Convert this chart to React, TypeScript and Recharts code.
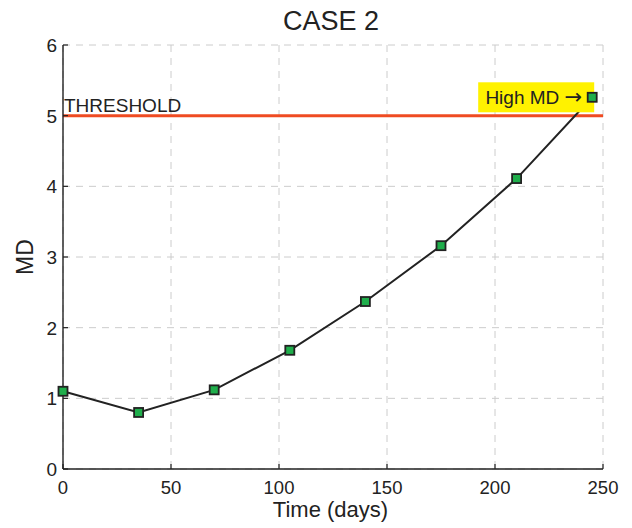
import { LineChart, Line, XAxis, YAxis, CartesianGrid, ReferenceLine, Customized } from 'recharts';

const days = [0, 35, 70, 105, 140, 175, 210, 245];
const md = [1.1, 0.8, 1.12, 1.68, 2.37, 3.16, 4.11, 5.26];
const xTicks = [0, 50, 100, 150, 200, 250];
const yTicks = [0, 1, 2, 3, 4, 5, 6];
const threshold = 5;
const title = 'CASE 2';
const xLabel = 'Time (days)';
const yLabel = 'MD';
const thresholdLabel = 'THRESHOLD';
const highLabel = 'High MD ';
const arrow = '\u2192';

const FONT = '"Liberation Sans", Arial, Helvetica, sans-serif';
const INK = '#222';

const data = days.map((d, i) => ({ day: d, md: md[i] }));

const XTick = ({ x, y, payload }: any) => (
    <g>
        <line x1={x} x2={x} y1={y} y2={y - 5} stroke={INK} strokeWidth={1.2} />
        <text x={x} y={y + 25} textAnchor="middle" fontSize={18.5} fill={INK} fontFamily={FONT}>
            {payload.value}
        </text>
    </g>
);

const YTick = ({ x, y, payload }: any) => (
    <g>
        <line x1={x} x2={x + 5} y1={y} y2={y} stroke={INK} strokeWidth={1.2} />
        <text x={x - 6} y={y + 7} textAnchor="end" fontSize={19} fill={INK} fontFamily={FONT}>
            {payload.value}
        </text>
    </g>
);

const SquareDot = ({ cx, cy, index }: any) => (
    <rect key={`dot-${index}`} x={cx - 4.5} y={cy - 4.5} width={9} height={9} fill="#1fae4b" stroke={INK} strokeWidth={1.8} />
);

// yellow note next to the last point, drawn under the data line
const HighNote = ({ cx, cy, index }: any) => {
    if (index !== days.length - 1) return <g key={`note-${index}`} />;
    return (
        <g key={`note-${index}`}>
            <rect x={cx - 114} y={cy - 15} width={116} height={30} fill="#fff200" />
            <text x={cx - 10} y={cy + 7} textAnchor="end" fontSize={19} fill={INK} fontFamily={FONT}>
                {highLabel}
                <tspan fontFamily='"DejaVu Sans", sans-serif' fontSize={21}>{arrow}</tspan>
            </text>
        </g>
    );
};

const Texts = () => (
    <g fontFamily={FONT} fill={INK}>
        <text x={331} y={30} textAnchor="middle" fontSize={27}>{title}</text>
        <text x={330.5} y={517} textAnchor="middle" fontSize={22}>{xLabel}</text>
        <text x={32.5} y={257} textAnchor="middle" fontSize={23} transform="rotate(-90 32.5 257)">{yLabel}</text>
    </g>
);

export default function App() {
    return (
        <div style={{ position: 'absolute', left: 0, top: 0, width: 632, height: 528 }}>
            <LineChart width={632} height={528} data={data} margin={{ top: 45, right: 29, left: 9, bottom: 8 }}>
                <CartesianGrid strokeDasharray="7 6" stroke="#cccccc" />
                <XAxis
                    dataKey="day"
                    type="number"
                    domain={[0, 250]}
                    ticks={xTicks}
                    height={51}
                    tickSize={0}
                    tickMargin={0}
                    tickLine={false}
                    tick={XTick}
                    axisLine={{ stroke: INK, strokeWidth: 1.4 }}
                />
                <YAxis
                    type="number"
                    domain={[0, 6]}
                    ticks={yTicks}
                    width={54}
                    tickSize={0}
                    tickMargin={0}
                    tickLine={false}
                    tick={YTick}
                    axisLine={{ stroke: INK, strokeWidth: 1.4 }}
                />
                <ReferenceLine
                    y={threshold}
                    stroke="#ef4b22"
                    strokeWidth={3}
                    label={({ viewBox }: any) => (
                        <text x={viewBox.x + 1} y={viewBox.y - 4} fontSize={19} fill={INK} fontFamily={FONT}>
                            {thresholdLabel}
                        </text>
                    )}
                />
                <Line
                    dataKey="md"
                    stroke="none"
                    dot={HighNote}
                    activeDot={false}
                    legendType="none"
                    isAnimationActive={false}
                />
                <Line
                    dataKey="md"
                    stroke={INK}
                    strokeWidth={2}
                    dot={SquareDot}
                    activeDot={false}
                    isAnimationActive={false}
                />
                <Customized component={Texts} />
            </LineChart>
        </div>
    );
}
